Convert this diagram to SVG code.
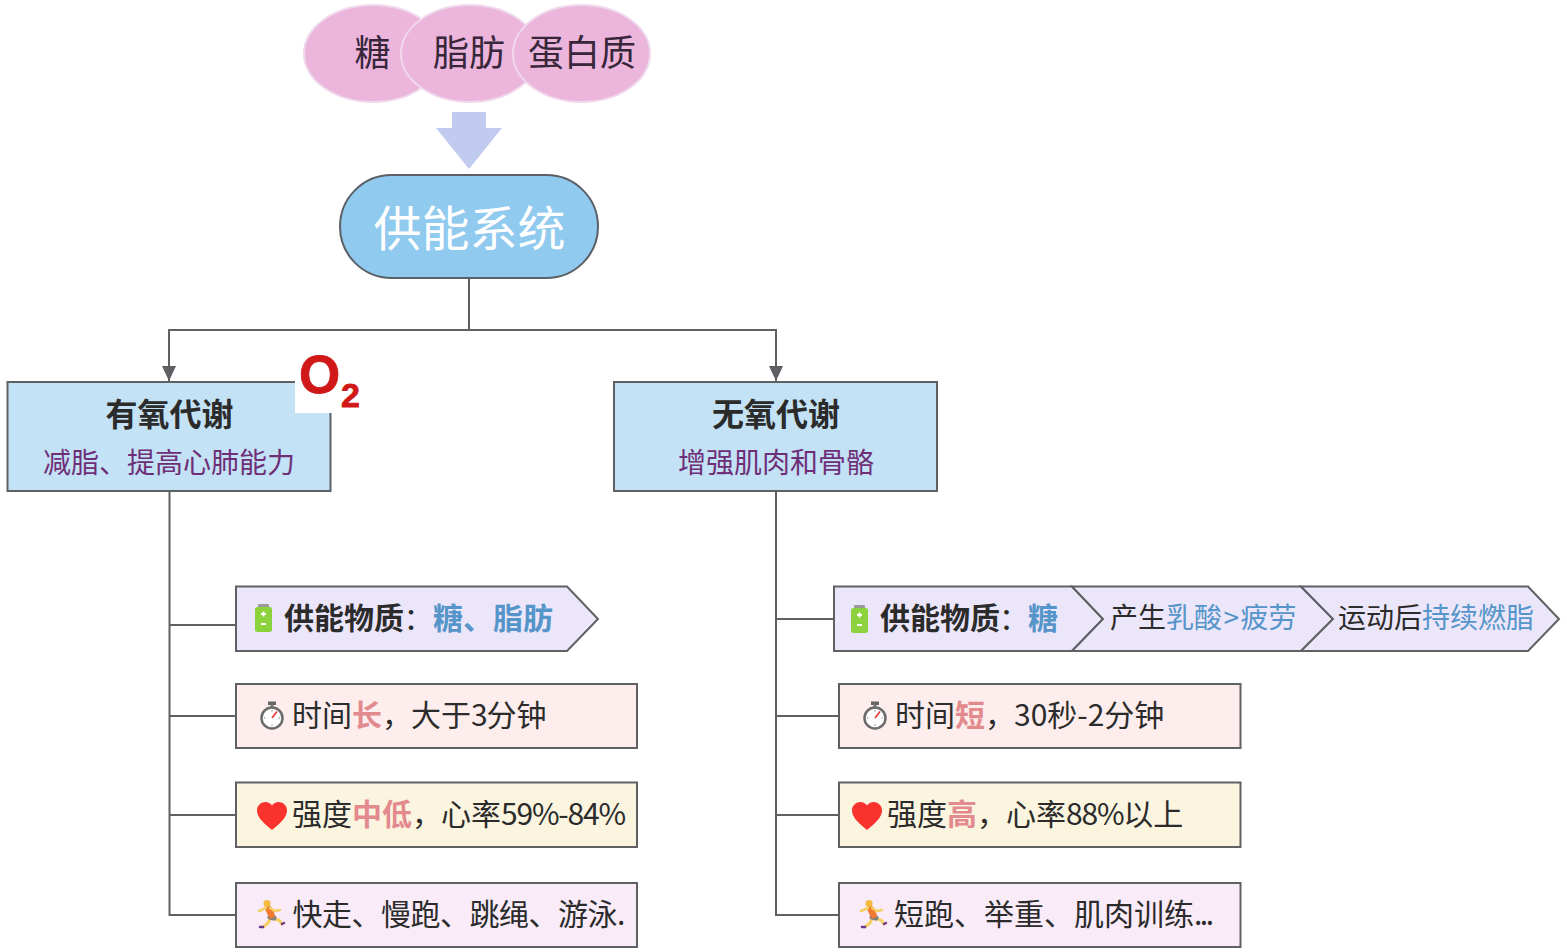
<svg xmlns="http://www.w3.org/2000/svg" width="1567" height="952" viewBox="0 0 1567 952">
<style>
text{font-family:"Noto Sans CJK SC","Noto Sans",sans-serif;fill:#2b2b2b}
.b{stroke:#5f6064;stroke-width:2}
.c{fill:none;stroke:#5f6064;stroke-width:2}
.ell{fill:#ebb5dc;stroke:#f0d9ec;stroke-width:2}
.t36{font-size:36px;fill:#38263a}
.head{font-size:32px;font-weight:700}
.sub{font-size:28px;fill:#6f2f78}
.t30{font-size:30px}
.t28{font-size:28px}
.hl{font-weight:700;fill:#e38a8f}
.bl{fill:#5595c9}
.num{letter-spacing:-1.200px}
.purple{fill:#ece6fa}
.pink{fill:#fdeeed}
.yellow{fill:#fbf4df}
.lilac{fill:#f9ecf8}
.lb{fill:#c3e2f5}
.o2{fill:#d01818;font-family:"Liberation Sans",sans-serif;font-weight:700;stroke:#d01818;stroke-width:.8px}
</style>
<defs>
<marker id="arr" markerUnits="userSpaceOnUse" markerWidth="16" markerHeight="14" refX="15" refY="7" orient="auto"><path d="M0 0L15 7L0 14Z" fill="#5f6064"/></marker>
<g id="battery"><rect x="3" y="0" width="11" height="4" rx="1" fill="#9a9a9a"/><rect x="0" y="3" width="17" height="25" rx="2.500" fill="#8cd23c"/><path d="M6 10h5M8.500 7.500v5M6 20h5" stroke="#fff" stroke-width="1.800" fill="none"/></g>
<g id="watch"><rect x="-4" y="-16.500" width="8" height="3.500" fill="#666"/><rect x="-1.500" y="-13.500" width="3" height="3" fill="#777"/><circle r="10.500" fill="#fff" stroke="#6b6b6b" stroke-width="2.500"/><path d="M0 0L5 -6.500" stroke="#e8403c" stroke-width="1.800"/><path d="M0 -8v1.500M0 8v-1.500M-8 0h1.500M8 0h-1.500" stroke="#888" stroke-width="1"/></g>
<path id="heart" d="M15 28C8 22 0 16 0 8.500C0 3 4.500 0 8.500 0C11 0 13.500 1.200 15 3.500C16.500 1.200 19 0 21.500 0C25.500 0 30 3 30 8.500C30 16 22 22 15 28Z" fill="#f9322e"/>
<g id="runner" fill="none" stroke-linecap="round" stroke-linejoin="round"><path d="M13 20L11 24L6 28" stroke="#f5cf60" stroke-width="3"/><path d="M17 20L22 21L25 25" stroke="#f5cf60" stroke-width="3"/><path d="M6 28L3 28" stroke="#6c3a8c" stroke-width="2.500"/><path d="M25 25L27 24" stroke="#6c3a8c" stroke-width="2.500"/><path d="M13 18L17 19" stroke="#808080" stroke-width="5"/><path d="M11.500 10L14.500 16" stroke="#f07a2e" stroke-width="6.500"/><path d="M9 9L2 12" stroke="#f5cf60" stroke-width="2.500"/><path d="M13 9L18 12L23 11" stroke="#f5cf60" stroke-width="2.500"/><circle cx="10" cy="4.500" r="3.500" fill="#f5b93c"/></g>
</defs>

<g id="connectors">
<path class="c" d="M469 279V330"/>
<path class="c" d="M469 330H169V381" marker-end="url(#arr)"/>
<path class="c" d="M469 330H776V381" marker-end="url(#arr)"/>
<path class="c" d="M169.500 491V915H236M170 625H242M170 716H236M170 815H236"/>
<path class="c" d="M776 491V915H839M776 619H834M776 716H839M776 815H839"/>
</g>

<g id="source-tang"><ellipse class="ell" cx="373" cy="53.500" rx="69" ry="48.500"/><text class="t36" x="354.500" y="66">糖</text></g>
<g id="source-zhifang"><ellipse class="ell" cx="470" cy="53.500" rx="69" ry="48.500"/><text class="t36" x="433" y="66">脂肪</text></g>
<g id="source-danbaizhi"><ellipse class="ell" cx="581.500" cy="53.500" rx="68.500" ry="48.500"/><text class="t36" x="528" y="66">蛋白质</text></g>
<path id="down-arrow" d="M452 112H486V128H502L469 169L436 128H452Z" fill="#c1cbef"/>

<g id="root"><rect x="340" y="175" width="258" height="103" rx="51.500" fill="#91caef" stroke="#5a6066" stroke-width="2"/><text x="469.500" y="246" text-anchor="middle" font-size="48" style="fill:#fff">供能系统</text></g>

<g id="aerobic"><rect class="lb b" x="7.500" y="382" width="323" height="109"/>
<rect x="295" y="350" width="37" height="63" fill="#fff"/>
<text class="head" x="169.500" y="426" text-anchor="middle">有氧代谢</text>
<text class="sub" x="169" y="473" text-anchor="middle">减脂、提高心肺能力</text>
<text class="o2" x="299" y="393" font-size="53">O</text>
<text class="o2" x="341" y="406.500" font-size="34">2</text></g>

<g id="anaerobic"><rect class="lb b" x="614" y="382" width="323" height="109"/>
<text class="head" x="776" y="426" text-anchor="middle">无氧代谢</text>
<text class="sub" x="776" y="473" text-anchor="middle">增强肌肉和骨骼</text></g>

<g id="a-energy"><path class="purple b" d="M236 586.500H567L598 619L567 651H236Z"/><use href="#battery" x="255" y="604"/>
<text class="t30" x="284" y="629"><tspan font-weight="700">供能物质</tspan><tspan dx="-.5">：</tspan><tspan class="bl" font-weight="700" dx="-.5">糖、脂肪</tspan></text></g>
<g id="a-time"><rect class="pink b" x="236" y="684" width="401" height="64"/><use href="#watch" x="272" y="718"/>
<text class="t30" x="292" y="726">时间<tspan class="hl">长</tspan>，<tspan dx="-1">大于</tspan><tspan class="num">3</tspan>分钟</text></g>
<g id="a-intensity"><rect class="yellow b" x="236" y="782.500" width="401" height="64.500"/><use href="#heart" x="257" y="802"/>
<text class="t30" x="292" y="825">强度<tspan class="hl">中低</tspan>，<tspan dx="-1">心率</tspan><tspan class="num">59%-84%</tspan></text></g>
<g id="a-sport"><rect class="lilac b" x="236" y="883" width="401" height="64"/><use href="#runner" x="257" y="899"/>
<text class="t30" x="292.500" y="925" letter-spacing="-.5">快走、慢跑、跳绳、游泳.</text></g>

<g id="b-energy"><path class="purple b" d="M834 586.500H1072L1103 619L1072 651H834Z"/><use href="#battery" x="851" y="605"/>
<text class="t30" x="880" y="629"><tspan font-weight="700">供能物质</tspan><tspan dx="-1">：</tspan><tspan class="bl" font-weight="700" dx="-1">糖</tspan></text></g>
<g id="b-lactate"><path class="purple b" d="M1072 586.500H1301L1333 619L1301 651H1072L1103 619Z"/>
<text class="t28" x="1110" y="628">产生<tspan class="bl">乳酸<tspan dx="1.500">&gt;</tspan><tspan dx="1.500">疲劳</tspan></tspan></text></g>
<g id="b-burn"><path class="purple b" d="M1301 586.500H1528L1559 619L1528 651H1301L1333 619Z"/>
<text class="t28" x="1338" y="628">运动后<tspan class="bl">持续燃脂</tspan></text></g>
<g id="b-time"><rect class="pink b" x="839" y="684" width="401.500" height="64"/><use href="#watch" x="875" y="718"/>
<text class="t30" x="895" y="726">时间<tspan class="hl">短</tspan>，<tspan dx="-1">30</tspan>秒-2分钟</text></g>
<g id="b-intensity"><rect class="yellow b" x="839" y="782.500" width="401.500" height="64.500"/><use href="#heart" x="852" y="802"/>
<text class="t30" x="887" y="825">强度<tspan class="hl">高</tspan>，<tspan dx="-1">心率</tspan><tspan class="num">88%</tspan>以上</text></g>
<g id="b-sport"><rect class="lilac b" x="839" y="883" width="401.500" height="64"/><use href="#runner" x="859" y="899"/>
<text class="t30" x="894" y="925">短跑、举重、肌肉训练<tspan letter-spacing="-2.500">...</tspan></text></g>
</svg>
